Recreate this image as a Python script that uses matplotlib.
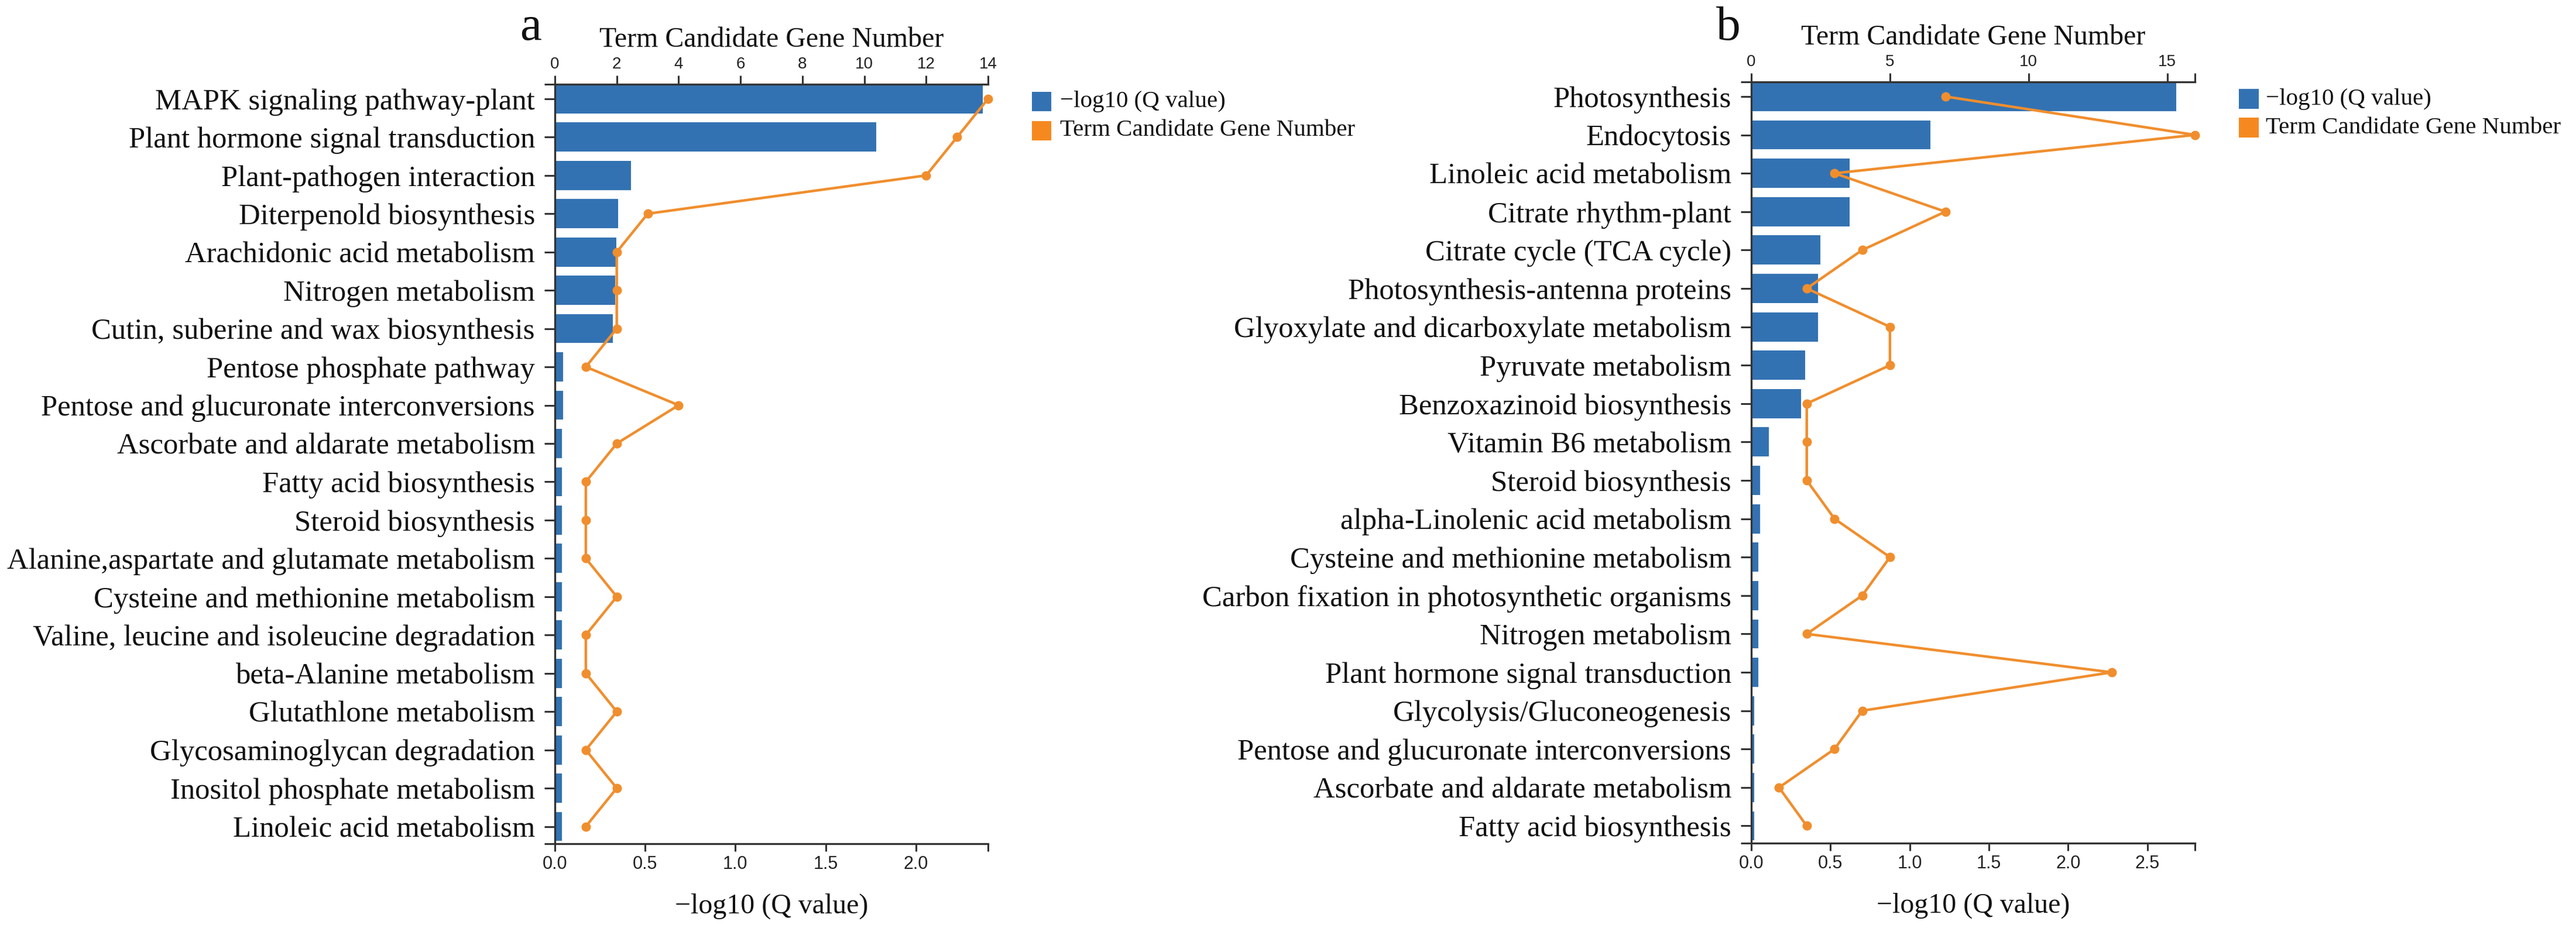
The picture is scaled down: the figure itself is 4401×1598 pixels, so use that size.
import matplotlib
matplotlib.use("Agg")
import matplotlib.pyplot as plt
from matplotlib.patches import Rectangle
import numpy as np

# ---------------- data ----------------
terms_a = [
    "MAPK signaling pathway-plant",
    "Plant hormone signal transduction",
    "Plant-pathogen interaction",
    "Diterpenold biosynthesis",
    "Arachidonic acid metabolism",
    "Nitrogen metabolism",
    "Cutin, suberine and wax biosynthesis",
    "Pentose phosphate pathway",
    "Pentose and glucuronate interconversions",
    "Ascorbate and aldarate metabolism",
    "Fatty acid biosynthesis",
    "Steroid biosynthesis",
    "Alanine,aspartate and glutamate metabolism",
    "Cysteine and methionine metabolism",
    "Valine, leucine and isoleucine degradation",
    "beta-Alanine metabolism",
    "Glutathlone metabolism",
    "Glycosaminoglycan degradation",
    "Inositol phosphate metabolism",
    "Linoleic acid metabolism",
]
qval_a = [2.37, 1.78, 0.42, 0.35, 0.34, 0.335, 0.32, 0.045, 0.045, 0.04,
          0.04, 0.04, 0.04, 0.04, 0.04, 0.04, 0.04, 0.04, 0.04, 0.04]
count_a = [14, 13, 12, 3, 2, 2, 2, 1, 4, 2, 1, 1, 1, 2, 1, 1, 2, 1, 2, 1]

terms_b = [
    "Photosynthesis",
    "Endocytosis",
    "Linoleic acid metabolism",
    "Citrate rhythm-plant",
    "Citrate cycle (TCA cycle)",
    "Photosynthesis-antenna proteins",
    "Glyoxylate and dicarboxylate metabolism",
    "Pyruvate metabolism",
    "Benzoxazinoid biosynthesis",
    "Vitamin B6 metabolism",
    "Steroid biosynthesis",
    "alpha-Linolenic acid metabolism",
    "Cysteine and methionine metabolism",
    "Carbon fixation in photosynthetic organisms",
    "Nitrogen metabolism",
    "Plant hormone signal transduction",
    "Glycolysis/Gluconeogenesis",
    "Pentose and glucuronate interconversions",
    "Ascorbate and aldarate metabolism",
    "Fatty acid biosynthesis",
]
qval_b = [2.68, 1.13, 0.62, 0.62, 0.435, 0.42, 0.42, 0.34, 0.315, 0.11,
          0.055, 0.055, 0.045, 0.045, 0.045, 0.045, 0.02, 0.02, 0.02, 0.02]
count_b = [7, 16, 3, 7, 4, 2, 5, 5, 2, 2, 2, 3, 5, 4, 2, 13, 4, 3, 1, 2]

q_ticks_a = [0.0, 0.5, 1.0, 1.5, 2.0]
c_ticks_a = [0, 2, 4, 6, 8, 10, 12, 14]
q_ticks_b = [0.0, 0.5, 1.0, 1.5, 2.0, 2.5]
c_ticks_b = [0, 5, 10, 15]

series_names = ["\u2212log10 (Q value)", "Term Candidate Gene Number"]
panel_letters = ["a", "b"]

# ---------------- style ----------------
BLUE = "#3372B2"
ORANGE = "#F08E2E"
ORANGE_LEG = "#F5891F"
AXC = "#333333"
SERIF = ["Liberation Serif", "DejaVu Serif"]
SANS = ["Liberation Sans", "DejaVu Sans"]

W, H = 4401, 1598
fig = plt.figure(figsize=(W / 100, H / 100), dpi=100)

PX = 72 / 100  # points per pixel


def fx(x):
    return x / W


def fy(y):
    return 1 - y / H


def panel(rect_px, terms, qv, cnt, qmax, cmax, qticks, cticks, leg_px, letter, letter_px):
    x0, y0, x1, y1 = rect_px
    ax = fig.add_axes([fx(x0), fy(y1), fx(x1) - fx(x0), fy(y0) - fy(y1)])
    n = len(terms)
    y = np.arange(n)
    ax.barh(y, qv, height=0.76, color=BLUE, zorder=2)
    ylo, yhi = -0.38, n - 1 + 0.45
    ax.set_ylim(yhi, ylo)
    ax.set_xlim(0, qmax)
    ax.set_yticks(y)
    ax.set_yticklabels(terms, fontsize=36.5, family=SERIF, color="#111111")
    ax.set_yticks([ylo, yhi], minor=True)
    ax.set_xticks(qticks)
    ax.set_xticklabels([f"{t:.1f}" for t in qticks], fontsize=22, family=SANS, color="#222222")
    ax.set_xticks([qmax], minor=True)
    ax.tick_params(axis="y", which="both", length=18 * PX, width=2.2, color=AXC, pad=16 * PX)
    ax.tick_params(axis="x", which="both", length=13 * PX, width=2.2, color=AXC, pad=7 * PX)
    for s in ["right", "top"]:
        ax.spines[s].set_visible(False)
    for s in ["left", "bottom"]:
        ax.spines[s].set_linewidth(2.4)
        ax.spines[s].set_color(AXC)
    ax.set_xlabel(series_names[0], fontsize=34.5, family=SERIF, labelpad=25, color="#111111")

    ax2 = ax.twiny()
    ax2.plot(cnt, y, color=ORANGE, lw=3.2, marker="o", ms=10.5, zorder=3, clip_on=False)
    ax2.set_xlim(0, cmax)
    ax2.set_ylim(yhi, ylo)
    ax2.set_xticks(cticks)
    ax2.set_xticklabels([str(t) for t in cticks], fontsize=20, family=SANS, color="#222222")
    if cmax not in cticks:
        ax2.set_xticks([cmax], minor=True)
    ax2.tick_params(axis="x", which="both", length=15 * PX, width=2.2, color=AXC, pad=6 * PX)
    for s in ["right", "left", "bottom"]:
        ax2.spines[s].set_visible(False)
    ax2.spines["top"].set_linewidth(2.4)
    ax2.spines["top"].set_color(AXC)
    ax2.set_xlabel(series_names[1], fontsize=34.5, family=SERIF, labelpad=12, color="#111111")

    # legend
    lx, ly, sq, sp, gap = leg_px
    for i, (nm, col) in enumerate(zip(series_names, [BLUE, ORANGE_LEG])):
        cy = ly + i * sp
        fig.add_artist(Rectangle((fx(lx), fy(cy + sq / 2)), sq / W, sq / H,
                                 transform=fig.transFigure, color=col, lw=0))
        fig.text(fx(lx + sq + gap), fy(cy), nm, fontsize=29.5, family=SERIF,
                 ha="left", va="center", color="#111111")

    fig.text(fx(letter_px[0]), fy(letter_px[1]), letter, fontsize=60, family=SERIF,
             ha="center", va="center", color="#111111")
    return ax, ax2


panel((948, 144, 1688, 1442), terms_a, qval_a, count_a, 2.4, 14,
      q_ticks_a, c_ticks_a, (1763, 173, 33, 50, 15), panel_letters[0], (907, 48))
panel((2992, 140, 3750, 1441), terms_b, qval_b, count_b, 2.8, 16,
      q_ticks_b, c_ticks_b, (3825, 169, 34, 49, 12), panel_letters[1], (2953, 48))

fig.savefig("out.png", dpi=100)
